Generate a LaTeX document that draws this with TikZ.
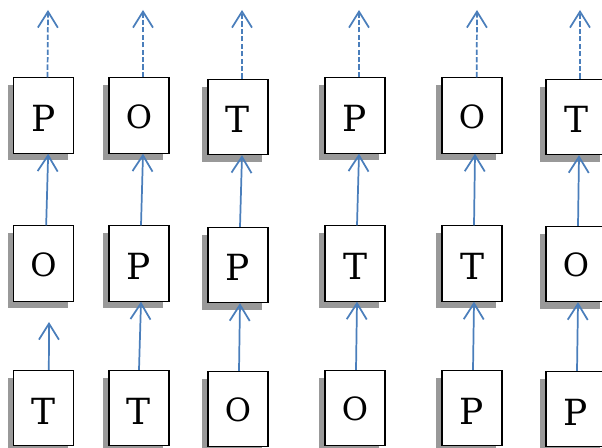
\documentclass[tikz,border=0pt]{standalone}
\usepackage{fontspec}
\setmainfont{DejaVu Serif}
\usetikzlibrary{arrows.meta,shadows}
\definecolor{linkblue}{RGB}{74,126,187}
\tikzset{
  letter/.style={draw=black, line width=0.8pt, fill=white,
    minimum width=45pt, minimum height=56.5pt, inner sep=0pt,
    font=\fontsize{27}{29}\selectfont, text height=24pt, text depth=0pt,
    drop shadow={shadow xshift=-4.5pt, shadow yshift=-5.5pt, fill=gray!80, opacity=1}},
  oletter/.style={font=\fontsize{24}{26}\selectfont, text height=19pt},
  link/.style={draw=linkblue, line width=1.3pt, -{Straight Barb[length=12pt,width=15pt]}},
  guess/.style={link, dash pattern=on 4pt off 1.6pt}
}
\begin{document}
\begin{tikzpicture}[x=0.75pt, y=-0.75pt]
\useasboundingbox (0,0) rectangle (602,448);
\clip (0,0) rectangle (602,448);

% Output row
\node[letter] (out1) at (43.5,115.5) {P};
\node[letter,oletter] (out2) at (139,115.5) {O};
\node[letter] (out3) at (238,117) {T};
\node[letter] (out4) at (355,115.5) {P};
\node[letter,oletter] (out5) at (472,115.5) {O};
\node[letter] (out6) at (576,117) {T};

% Middle row
\node[letter,oletter] (mid1) at (43.5,263.5) {O};
\node[letter] (mid2) at (139,263.5) {P};
\node[letter] (mid3) at (238,265) {P};
\node[letter] (mid4) at (355,263.5) {T};
\node[letter] (mid5) at (472,263.5) {T};
\node[letter,oletter] (mid6) at (576,264) {O};

% Input row
\node[letter] (in1) at (43.5,408) {T};
\node[letter] (in2) at (139,408) {T};
\node[letter,oletter] (in3) at (238,409) {O};
\node[letter,oletter] (in4) at (355,408) {O};
\node[letter] (in5) at (472,408) {P};
\node[letter] (in6) at (576,409) {P};

% Free ends
\coordinate (end1) at (48,10);
\coordinate (end2) at (143,10);
\coordinate (end3) at (242,10);
\coordinate (end4) at (359,10);
\coordinate (end5) at (477,10);
\coordinate (end6) at (580,10);
\coordinate (stub) at (49,322);

% Dashed outputs
\draw[guess] ([xshift=3pt]out1.north) -- (end1);
\draw[guess] ([xshift=3pt]out2.north) -- (end2);
\draw[guess] ([xshift=3pt]out3.north) -- (end3);
\draw[guess] ([xshift=3pt]out4.north) -- (end4);
\draw[guess] ([xshift=3.5pt]out5.north) -- (end5);
\draw[guess] ([xshift=3pt]out6.north) -- (end6);

% Middle to output
\draw[link] ([xshift=2pt]mid1.north) -- ([xshift=3.5pt]out1.south);
\draw[link] ([xshift=1.5pt]mid2.north) -- ([xshift=3pt]out2.south);
\draw[link] ([xshift=1.5pt]mid3.north) -- ([xshift=3pt]out3.south);
\draw[link] ([xshift=1.5pt]mid4.north) -- ([xshift=3pt]out4.south);
\draw[link] ([xshift=1.5pt]mid5.north) -- ([xshift=2.25pt]out5.south);
\draw[link] ([xshift=1.5pt]mid6.north) -- ([xshift=2.25pt]out6.south);

% Input to middle
\draw[link] ([xshift=4pt]in1.north) -- (stub);
\draw[link] (in2.north) -- ([xshift=1.5pt]mid2.south);
\draw[link] ([xshift=0.75pt]in3.north) -- ([xshift=1.5pt]mid3.south);
\draw[link] ([xshift=0.75pt]in4.north) -- ([xshift=1.5pt]mid4.south);
\draw[link] ([xshift=0.75pt]in5.north) -- ([xshift=1.5pt]mid5.south);
\draw[link] ([xshift=0.75pt]in6.north) -- ([xshift=1.5pt]mid6.south);
\end{tikzpicture}
\end{document}
